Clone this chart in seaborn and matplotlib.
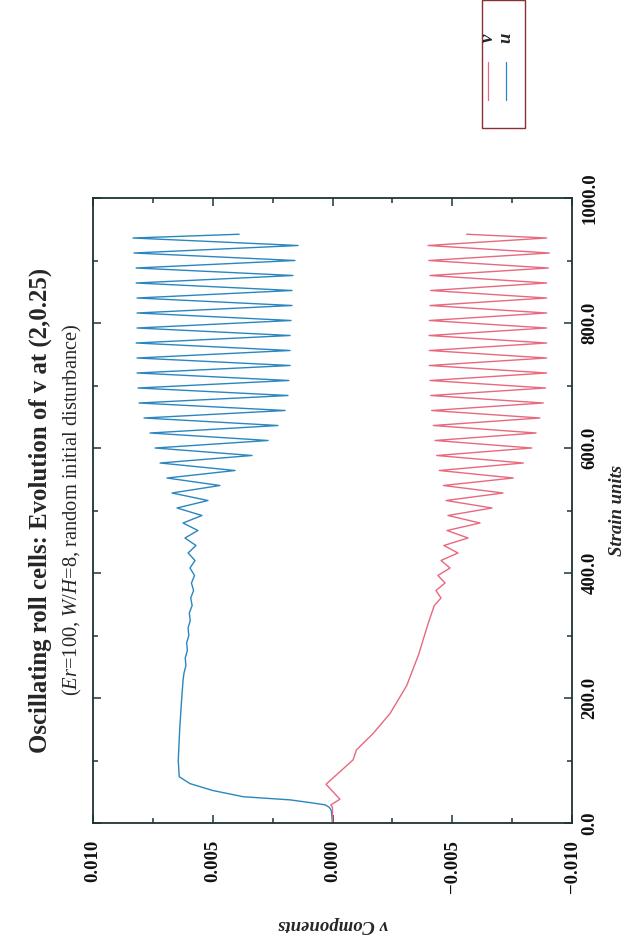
import numpy as np
import pandas as pd
import matplotlib
matplotlib.use("Agg")
import matplotlib.pyplot as plt
from matplotlib.ticker import MultipleLocator, FuncFormatter
from matplotlib.lines import Line2D
from matplotlib.patches import Rectangle
import seaborn as sns

# u component: strain units vs value (turning points of the oscillation)
u_strain = [0, 20, 25, 29, 33, 37, 42, 52, 63, 74, 100, 150, 197, 228, 240,
            252, 264, 276, 288, 300, 312, 324, 336, 348, 360, 372, 384, 396,
            408, 420, 432, 444, 456, 468, 480, 492, 504, 516, 528, 540, 552,
            564, 576, 588, 600, 612, 624, 636, 648, 660, 672, 684, 696, 708,
            720, 732, 744, 756, 768, 780, 792, 804, 816, 828, 840, 852, 864,
            876, 888, 900, 912, 924, 936, 942]
u_value = [0.0, 0.00005, 0.00013, 0.00031, 0.0010, 0.00177, 0.00372, 0.00500,
           0.00595, 0.00640, 0.00644, 0.00638, 0.00630, 0.00624, 0.00620,
           0.00612, 0.00615, 0.00606, 0.00609, 0.00600, 0.00603, 0.00594,
           0.00598, 0.00586, 0.00592, 0.00580, 0.00589, 0.00576, 0.00595,
           0.00574, 0.00603, 0.00570, 0.00616, 0.00562, 0.00624, 0.00545,
           0.00649, 0.00520, 0.00670, 0.00470, 0.00691, 0.00407, 0.00720,
           0.00336, 0.00741, 0.00269, 0.00762, 0.00228, 0.00787, 0.00198,
           0.00808, 0.00186, 0.00812, 0.00182, 0.00816, 0.00177, 0.00816,
           0.00177, 0.00820, 0.00177, 0.00816, 0.00173, 0.00816, 0.00169,
           0.00816, 0.00169, 0.00820, 0.00165, 0.00820, 0.00157, 0.00829,
           0.00144, 0.00833, 0.00390]

# v component
v_strain = [0, 25, 29, 38, 62, 101, 117, 143, 175, 220, 270, 320, 348, 360,
            372, 384, 396, 408, 420, 432, 444, 456, 468, 480, 492, 504, 516,
            528, 540, 552, 564, 576, 588, 600, 612, 624, 636, 648, 660, 672,
            684, 696, 708, 720, 732, 744, 756, 768, 780, 792, 804, 816, 828,
            840, 852, 864, 876, 888, 900, 912, 924, 936, 942]
v_value = [0.0, 0.0, 0.00007, -0.00031, 0.00027, -0.00086, -0.00100,
           -0.00169, -0.00240, -0.00310, -0.00360, -0.00400, -0.00425,
           -0.00453, -0.00432, -0.00470, -0.00440, -0.00491, -0.00453,
           -0.00524, -0.00465, -0.00566, -0.00478, -0.00616, -0.00482,
           -0.00666, -0.00474, -0.00712, -0.00463, -0.00755, -0.00446,
           -0.00797, -0.00435, -0.00832, -0.00428, -0.00850, -0.00421,
           -0.00866, -0.00414, -0.00880, -0.00410, -0.00890, -0.00407,
           -0.00894, -0.00404, -0.00894, -0.00404, -0.00894, -0.00403,
           -0.00894, -0.00404, -0.00894, -0.00407, -0.00894, -0.00410,
           -0.00894, -0.00407, -0.00901, -0.00402, -0.00905, -0.00399,
           -0.00894, -0.00560]

components = ["u", "v"]
colors = {"u": "#2a86c0", "v": "#e8687e"}

v_ticks = [0.010, 0.005, 0.000, -0.005, -0.010]
strain_ticks = [0.0, 200.0, 400.0, 600.0, 800.0, 1000.0]

title = "Oscillating roll cells: Evolution of v at (2,0.25)"
subtitle = r"($\mathit{Er}$=100, $\mathit{W/H}$=8, random initial disturbance)"

sns.set_style("ticks")
plt.rcParams["font.family"] = ["Liberation Serif", "DejaVu Serif"]
plt.rcParams["mathtext.fontset"] = "custom"
plt.rcParams["mathtext.rm"] = "Liberation Serif"
plt.rcParams["mathtext.it"] = "Liberation Serif:italic"
plt.rcParams["mathtext.bf"] = "Liberation Serif:bold"

df = pd.concat([
    pd.DataFrame({"strain": u_strain, "value": u_value, "component": "u"}),
    pd.DataFrame({"strain": v_strain, "value": v_value, "component": "v"}),
], ignore_index=True)

ink = "#1d3434"
fig = plt.figure(figsize=(6.34, 9.39), dpi=100)
ax = fig.add_axes([93 / 634, 1 - 823 / 939, 479 / 634, 625 / 939])

sns.lineplot(data=df, x="value", y="strain", hue="component",
             palette=colors, hue_order=components, orient="y",
             estimator=None, sort=True, legend=False, linewidth=1.0, ax=ax)

ax.set_xlim(0.010, -0.010)
ax.set_ylim(0, 1000)

ax.xaxis.set_minor_locator(MultipleLocator(0.0025))
ax.yaxis.set_minor_locator(MultipleLocator(100))
ax.set_xticks(v_ticks)
ax.set_yticks(strain_ticks)


def fmt_v(val, _pos):
    s = f"{val:.3f}"
    if s == "-0.000":
        s = "0.000"
    return s.replace("-", "\u2212")


ax.xaxis.set_major_formatter(FuncFormatter(fmt_v))
ax.yaxis.set_major_formatter(FuncFormatter(lambda v, _p: f"{v:.1f}"))

ax.yaxis.tick_right()
ax.tick_params(which="both", direction="in", top=True, bottom=True,
               left=True, right=True, color=ink, width=1.1)
ax.tick_params(which="major", length=6)
ax.tick_params(which="minor", length=3.5)
ax.tick_params(axis="x", which="major", pad=12, labelsize=13.5,
               labelrotation=90, labelcolor="#111111")
ax.tick_params(axis="y", which="major", pad=7, labelsize=13.5,
               labelrotation=90, labelcolor="#111111")
for lab in ax.get_xticklabels() + ax.get_yticklabels():
    lab.set_fontweight("bold")
for lab in ax.get_yticklabels():
    lab.set_verticalalignment("center")

for sp in ax.spines.values():
    sp.set_visible(True)
    sp.set_color(ink)
    sp.set_linewidth(1.3)

ax.set_xlabel("v Components", fontsize=13.5, fontstyle="italic",
              fontweight="bold", rotation=180, va="center", ha="center")
ax.xaxis.set_label_coords((333 - 93) / 479, -(924 - 823) / 625)
ax.yaxis.set_label_position("right")
ax.set_ylabel("Strain units", fontsize=13.5, fontstyle="italic",
              fontweight="bold", rotation=90, va="center", ha="center")
ax.yaxis.set_label_coords((617 - 93) / 479, 0.5)

fig.text(40 / 634, 1 - 510 / 939, title, rotation=90, ha="center",
         va="center", fontsize=17.8, fontweight="bold")
fig.text(72 / 634, 1 - 510 / 939, subtitle, rotation=90, ha="center",
         va="center", fontsize=14.8)

# legend box, drawn in the same rotated frame as the axes
bx0, bx1, by0, by1 = 482 / 634, 525 / 634, 1 - 128 / 939, 1.0
fig.add_artist(Rectangle((bx0, by0), bx1 - bx0, by1 - by0,
                         transform=fig.transFigure, fill=False,
                         edgecolor="#8a3030", linewidth=1.0))
for name, xpix in (("u", 506), ("v", 488)):
    fig.add_artist(Line2D([xpix / 634, xpix / 634],
                          [1 - 100 / 939, 1 - 62 / 939],
                          transform=fig.transFigure, color=colors[name],
                          linewidth=0.9))
    fig.text(xpix / 634, 1 - 38 / 939, name, rotation=90, ha="center",
             va="center", fontsize=13.5, fontstyle="italic",
             fontweight="bold")

fig.savefig("out.png", dpi=100, facecolor="white")
